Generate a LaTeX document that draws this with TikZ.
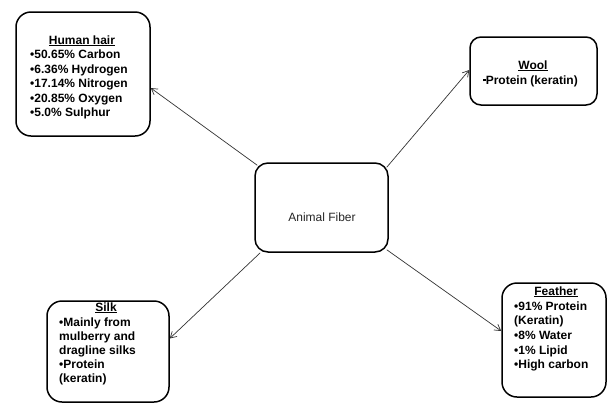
\documentclass[tikz,border=0pt]{standalone}
\usepackage{fontspec}
\setmainfont{Liberation Sans}
\usetikzlibrary{arrows.meta}
\newcommand{\boxlines}[1]{\begin{tabular}[t]{@{}l@{}}#1\end{tabular}}
\newcommand{\sqbul}{\rule[2.6pt]{2.6pt}{2.6pt}}
\tikzset{
  fbox/.style={draw=black, line width=1.5pt, rounded corners=#1, inner sep=0pt, fill=white},
  ttl/.style={font=\bfseries\fontsize{12}{14}\selectfont, anchor=base, inner sep=0pt},
  lst/.style={font=\bfseries\fontsize{12}{#1}\selectfont, anchor=base west, inner sep=0pt},
  arr/.style={draw=black!80, line width=0.7pt, -{Straight Barb[length=6pt,width=7pt]}}
}
\begin{document}
\begin{tikzpicture}[x=1pt,y=-1pt]
\useasboundingbox (0,0) rectangle (607,405);
% boxes
\node[fbox=15pt, minimum width=134pt, minimum height=124pt] (hair) at (83,74) {};
\node[fbox=11pt, minimum width=127pt, minimum height=68pt] (wool) at (533.5,71) {};
\node[fbox=13pt, minimum width=133pt, minimum height=89pt] (c) at (321.5,207.5) {};
\node[fbox=15pt, minimum width=122pt, minimum height=101pt] (silk) at (108,351.5) {};
\node[fbox=15pt, minimum width=104pt, minimum height=114pt] (feather) at (554,340) {};
% texts
\node[font=\fontsize{12}{14}\selectfont, text=black!85, anchor=base, inner sep=0pt] (ctext) at (322,221) {Animal Fiber};
\node[ttl] (hairt) at (82,44) {\underline{Human hair}};
\node[lst=14.5] (hairl) at (30,58.5) {\boxlines{•50.65\% Carbon\\ •6.36\% Hydrogen\\ •17.14\% Nitrogen\\ •20.85\% Oxygen\\ •5.0\% Sulphur}};
\node[ttl] (woolt) at (533,69) {\underline{Wool}};
\node[lst=15] (wooll) at (483,84) {\boxlines{\sqbul Protein (keratin)}};
\node[ttl] (silkt) at (106,311) {\underline{Silk}};
\node[lst=14] (silkl) at (59,326) {\boxlines{•Mainly from\\ mulberry and\\ dragline silks\\ •Protein\\ (keratin)}};
\node[ttl] (feathert) at (556,295) {\underline{Feather}};
\node[lst=14.7] (featherl) at (514,310) {\boxlines{•91\% Protein\\ (Keratin)\\ •8\% Water\\ •1\% Lipid\\ •High carbon}};
% arrows
\draw[arr] ([shift={(3pt,-3pt)}]c.north west) -- ([yshift=-14pt]hair.east);
\draw[arr] ([shift={(-2pt,-5pt)}]c.north east) -- ([yshift=1pt]wool.west);
\draw[arr] ([shift={(6pt,0pt)}]c.south west) -- ([yshift=13pt]silk.east);
\draw[arr] ([shift={(-2pt,3pt)}]c.south east) -- ([yshift=9pt]feather.west);
\end{tikzpicture}
\end{document}
